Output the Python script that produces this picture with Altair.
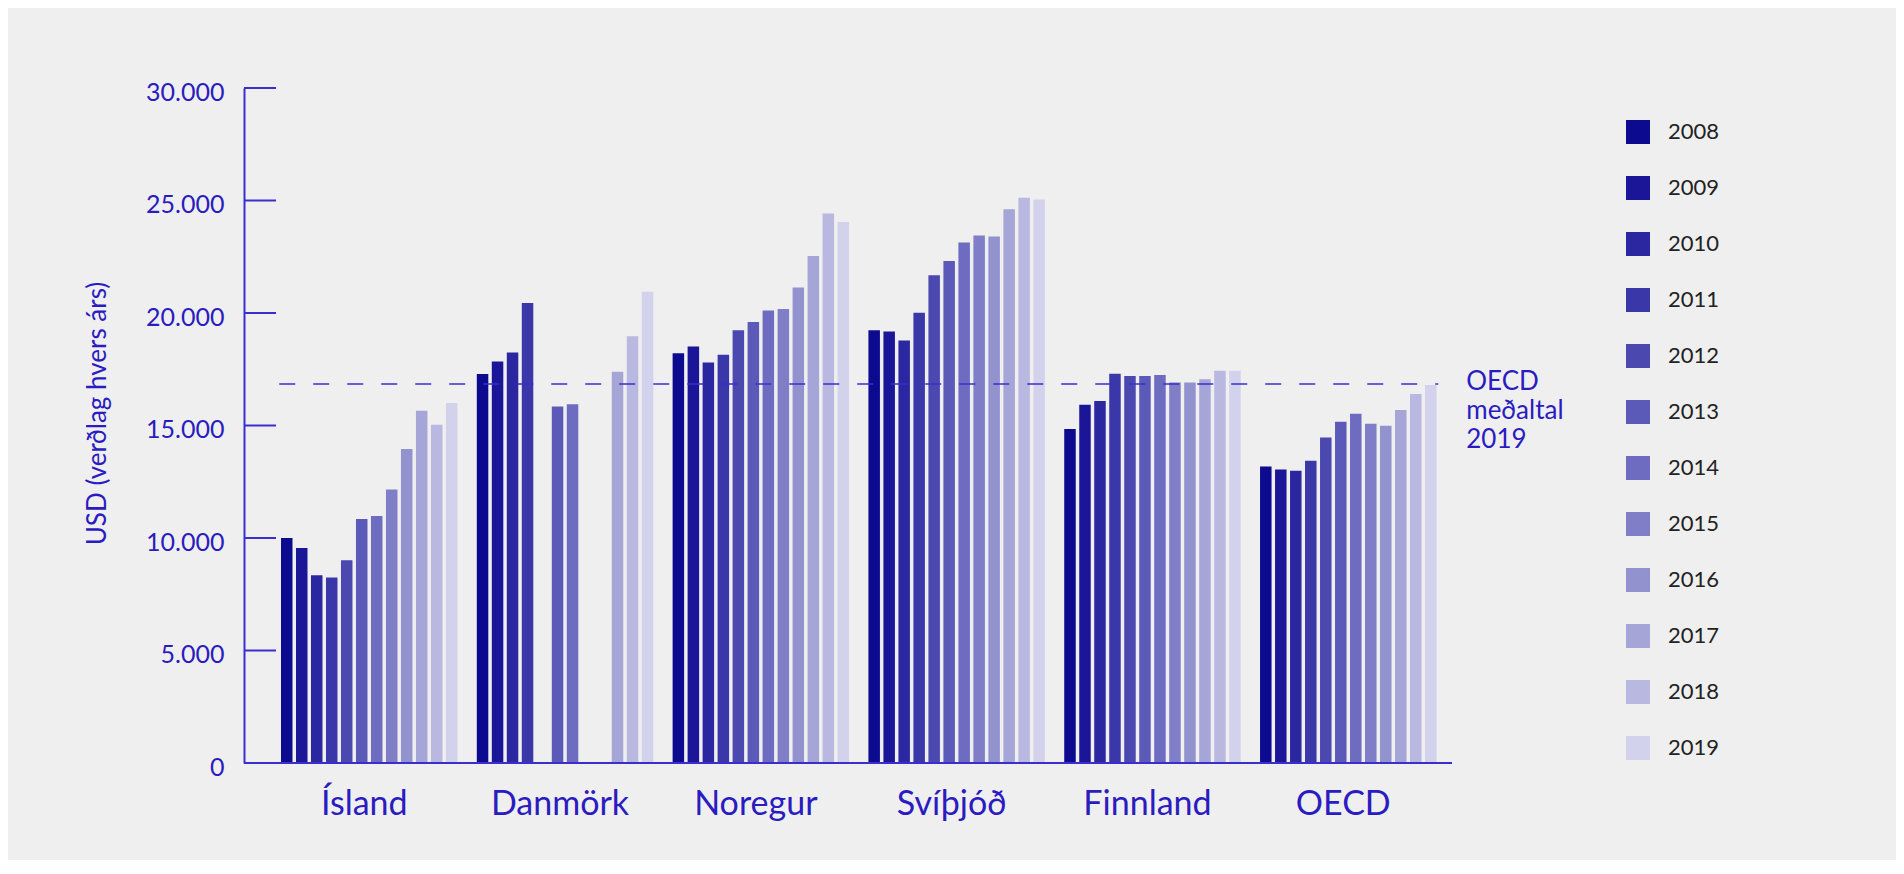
import altair as alt
import pandas as pd

# ---- data ----
years = [str(y) for y in range(2008, 2020)]
countries = ["Ísland", "Danmörk", "Noregur", "Svíþjóð", "Finnland", "OECD"]

island = [10000, 9560, 8350, 8250, 9010, 10840, 10980, 12160, 13960, 15660, 15030, 16000]
danmork = [17290, 17840, 18250, 20440, None, 15840, 15940, None, None, 17390, 18970, 20950]
noregur = [18210, 18510, 17800, 18140, 19230, 19600, 20110, 20180, 21130, 22530, 24420, 24050]
svithjod = [19230, 19180, 18780, 20010, 21680, 22310, 23130, 23450, 23400, 24610, 25120, 25050]
finnland = [14840, 15920, 16090, 17300, 17200, 17200, 17240, 16910, 16910, 17060, 17430, 17430]
oecd = [13180, 13050, 12990, 13430, 14470, 15170, 15520, 15080, 14990, 15690, 16400, 16800]

oecd_avg_2019 = 16850
y_ticks = [0, 5000, 10000, 15000, 20000, 25000, 30000]
annotation_lines = ["OECD", "meðaltal", "2019"]

colors = ["#0c0a8e", "#1a1697", "#2a27a0", "#3a37a8", "#4b48b0", "#5c5ab8",
          "#6d6cc0", "#7f7ec7", "#9292cf", "#a5a5d7", "#b8b8e0", "#d2d2ec"]

BLUE_TEXT = "#2a1cc0"
BLUE_LINE = "#3a2ecf"
FONT = "Lato"

series = {"Ísland": island, "Danmörk": danmork, "Noregur": noregur,
          "Svíþjóð": svithjod, "Finnland": finnland, "OECD": oecd}
rows = []
for land in countries:
    for ar, v in zip(years, series[land]):
        if v is not None:
            rows.append({"land": land, "ar": ar, "gildi": v})
df = pd.DataFrame(rows)

W, H = 1208, 675

x_scale = alt.Scale(domain=countries, range=[35.25, 1194.25],
                    paddingInner=0.081, paddingOuter=0)
y_scale = alt.Scale(domain=[0, 30000], nice=False)

bars = alt.Chart(df).mark_bar().encode(
    x=alt.X("land:N", scale=x_scale, title=None,
            axis=alt.Axis(domain=False, ticks=False, tickSize=0, labelPadding=41,
                          labelOffset=-5,
                          labelBaseline="middle", labelFontSize=34, labelFont=FONT,
                          labelColor=BLUE_TEXT, labelAngle=0, grid=False)),
    xOffset=alt.XOffset("ar:N", scale=alt.Scale(domain=years, paddingInner=0.233,
                                                 paddingOuter=0.1165)),
    y=alt.Y("gildi:Q", scale=y_scale, title="USD (verðlag hvers árs)",
            axis=alt.Axis(values=y_ticks, grid=False, ticks=False, tickSize=0,
                          labelPadding=20, labelOffset=4,
                          labelExpr="replace(format(datum.value, ',.0f'), ',', '.')",
                          labelFontSize=25, labelFont=FONT, labelColor=BLUE_TEXT,
                          domainColor=BLUE_LINE, domainWidth=2,
                          titleFont=FONT, titleFontSize=26, titleFontWeight="normal",
                          titleColor=BLUE_TEXT, titleX=-147, titleY=325,
                          titleAngle=-90, titleAlign="center", titleBaseline="middle")),
    color=alt.Color("ar:N", scale=alt.Scale(domain=years, range=colors),
                    legend=alt.Legend(title=None, orient="none", legendX=1382, legendY=32,
                                      direction="vertical", columns=1,
                                      symbolType="square", symbolSize=576,
                                      symbolStrokeWidth=0, symbolOpacity=1,
                                      rowPadding=32, labelOffset=18, padding=0,
                                      labelFont=FONT, labelFontSize=22,
                                      labelColor="#222222")),
)

tick_df = pd.DataFrame({"v": y_ticks})
ticks = alt.Chart(tick_df).mark_rule(color=BLUE_LINE, strokeWidth=2).encode(
    y=alt.Y("v:Q", scale=y_scale),
    x=alt.value(0),
    x2=alt.value(32),
)

baseline = alt.Chart(tick_df).mark_rule(color=BLUE_LINE, strokeWidth=2).encode(
    y=alt.datum(0),
)

avg_df = pd.DataFrame({"v": [oecd_avg_2019]})
avg_line = alt.Chart(avg_df).mark_rule(color=BLUE_LINE, strokeWidth=1.5,
                                       strokeDash=[16, 18]).encode(
    y=alt.Y("v:Q", scale=y_scale),
    x=alt.X(datum=countries[0], type="nominal", bandPosition=0),
    x2=alt.X2(datum=countries[-1], bandPosition=1),
)

annot = alt.Chart(avg_df).mark_text(align="left", baseline="middle", font=FONT,
                                    fontSize=26, lineHeight=29, color=BLUE_TEXT,
                                    dx=28, dy=-2,
                                    text=annotation_lines).encode(
    y=alt.Y("v:Q", scale=y_scale),
    x=alt.X(datum=countries[-1], type="nominal", bandPosition=1),
)

chart = alt.layer(ticks, bars, baseline, avg_line, annot).properties(
    width=W, height=H,
    autosize=alt.AutoSizeParams(type="none"),
    padding={"left": 236, "top": 80, "right": 444, "bottom": 97},
    background="#efefef",
).configure_view(strokeWidth=0)

chart.save("out.html", embed_options={"renderer": "svg", "actions": False})
